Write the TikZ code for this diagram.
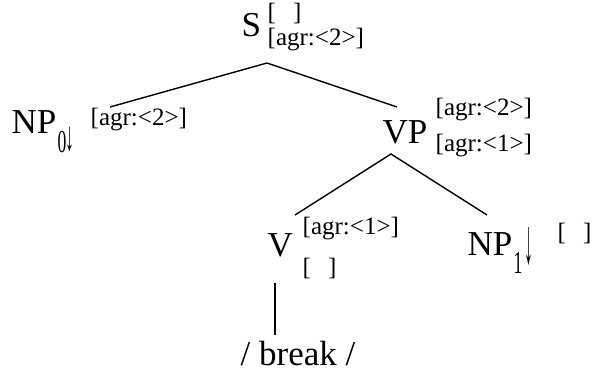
\documentclass[tikz,border=0pt]{standalone}
\usepackage{fontspec}
\setmainfont{Liberation Serif}
\usetikzlibrary{positioning}

\tikzset{every picture/.style={line width=1.4pt}}
\tikzset{
  cat/.style={inner sep=0pt, anchor=base west, font=\fontsize{35}{40}\selectfont},
  feat/.style={inner sep=0pt, anchor=base west, font=\fontsize{25}{30}\selectfont},
  idx/.style={inner sep=0pt, anchor=base west, font=\fontsize{32}{36}\selectfont},
  foot/.style={inner sep=0pt, anchor=base west, font=\fontsize{32}{36}\selectfont},
}
\newcommand{\emptyfs}{[\hspace{17pt}]}
\newcommand{\narrow}[1]{\scalebox{0.55}[1]{#1}}

\begin{document}
\begin{tikzpicture}[x=1pt,y=1pt,yscale=-1]
		\useasboundingbox (0,0) rectangle (594,377);

		% Text Node: root
		\node[cat] (s) at (241,37) {S};
		\node[feat] (s-t) at (267,21) {\emptyfs};
		\node[feat] (s-b) at (267,46) {[agr:<2>]};

		% Text Node: subject
		\node[cat] (np0) at (11,133) {NP};
		\node[idx] (np0-i) at (57,153) {\narrow{0}};
		\node[foot] (np0-a) at (65,150) {\scalebox{0.55}[1.3]{↓}};
		\node[feat] (np0-f) at (90,126) {[agr:<2>]};

		% Text Node: verb phrase
		\node[cat] (vp) at (382,143) {VP};
		\node[feat] (vp-t) at (435,116) {[agr:<2>]};
		\node[feat] (vp-b) at (435,151) {[agr:<1>]};

		% Text Node: verb
		\node[cat] (v) at (267,256) {V};
		\node[feat] (v-t) at (302,234) {[agr:<1>]};
		\node[feat] (v-b) at (302,275) {\emptyfs};

		% Text Node: object
		\node[cat] (np1) at (467,255) {NP};
		\node[idx] (np1-i) at (513,273) {\narrow{1}};
		\node[foot] (np1-a) at (524,263) {\scalebox{0.55}[2]{↓}};
		\node[feat] (np1-t) at (557,240) {\emptyfs};

		% Text Node: anchor word
		\node[cat] (lex) at (240,365) {/ break /};

		% attachment points of the branches
		\coordinate (s-foot) at (267,63);
		\coordinate (np0-top) at (110,107);
		\coordinate (vp-top) at (397,107);
		\coordinate (vp-foot) at (391,154);
		\coordinate (v-top) at (295,215);
		\coordinate (np1-top) at (487,215);
		\coordinate (v-foot) at (275,283);
		\coordinate (lex-top) at (275,335);

		% Branches
		\draw (np0-top) -- (s-foot) -- (vp-top);
		\draw (v-top) -- (vp-foot) -- (np1-top);
		\draw (v-foot) -- (lex-top);

		\end{tikzpicture}
\end{document}
